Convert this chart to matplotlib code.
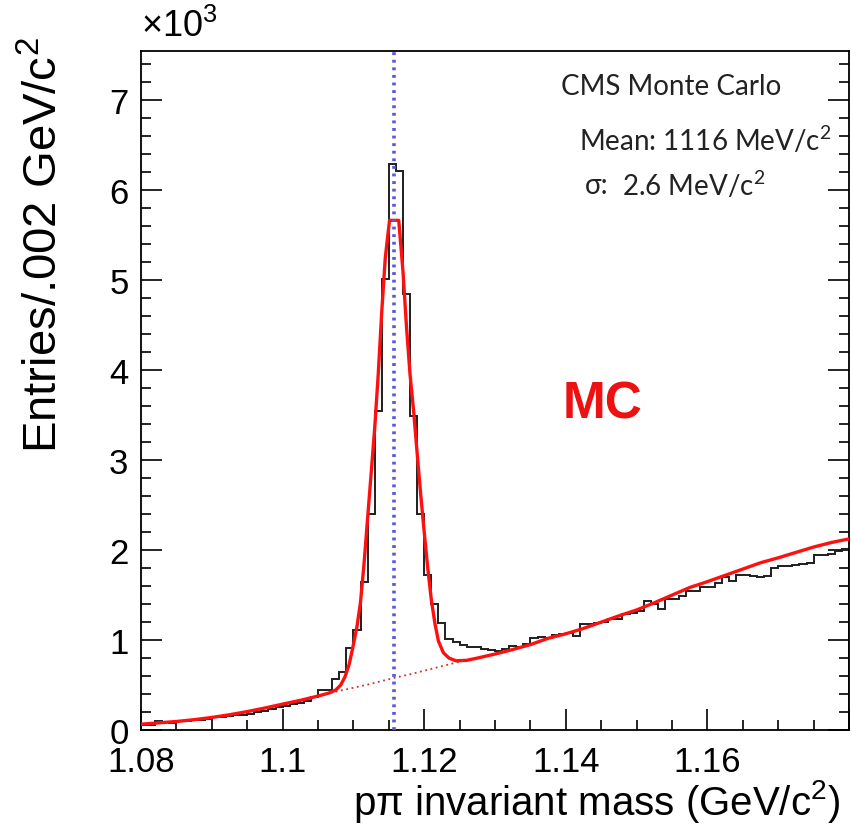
import numpy as np
import matplotlib
matplotlib.use("Agg")
import matplotlib.pyplot as plt
from matplotlib.ticker import MultipleLocator, FixedLocator, FuncFormatter

plt.rcParams['font.family'] = ['Liberation Sans', 'DejaVu Sans']
plt.rcParams['mathtext.fontset'] = 'custom'
plt.rcParams['mathtext.rm'] = 'Liberation Sans'
plt.rcParams['mathtext.it'] = 'Liberation Sans:italic'
plt.rcParams['mathtext.sf'] = 'Lato'

# p-pi invariant mass histogram, 1 MeV bins from 1.08 to 1.18 GeV
x_lo, x_hi, n_bins = 1.08, 1.18, 100
entries = [
    55, 60, 100, 85, 80, 95, 100, 110, 115, 120,
    140, 145, 160, 165, 170, 180, 200, 210, 235, 255,
    270, 290, 300, 320, 365, 440, 445, 570, 650, 910,
    1115, 1650, 2400, 3550, 5010, 6290, 6215, 4845, 3490, 2400,
    1720, 1400, 1195, 1010, 975, 945, 920, 925, 900, 890,
    880, 905, 930, 925, 960, 1020, 1030, 1020, 1060, 1065,
    1075, 1045, 1175, 1180, 1195, 1200, 1235, 1240, 1285, 1300,
    1320, 1435, 1400, 1345, 1455, 1460, 1490, 1545, 1550, 1585,
    1590, 1640, 1705, 1660, 1720, 1725, 1710, 1705, 1710, 1805,
    1825, 1825, 1830, 1850, 1855, 1945, 1945, 1955, 1990, 2010,
]

# fitted signal + background
fit_x = [1.0800, 1.0825, 1.0850, 1.0875, 1.0900, 1.0925, 1.0950, 1.0975,
         1.1000, 1.1025, 1.1050, 1.1065, 1.1075, 1.1082, 1.1088, 1.1094,
         1.1100, 1.1105, 1.1110, 1.1115, 1.1120, 1.1125, 1.1130, 1.1135,
         1.1140, 1.1145, 1.1151, 1.1164, 1.1170, 1.1175, 1.1180, 1.1185,
         1.1190, 1.1195, 1.1200, 1.1205, 1.1210, 1.1215, 1.1220, 1.1227,
         1.1235, 1.1245, 1.1260, 1.1275, 1.1300, 1.1325, 1.1350, 1.1375,
         1.1400, 1.1425, 1.1450, 1.1475, 1.1500, 1.1525, 1.1550, 1.1575,
         1.1600, 1.1625, 1.1650, 1.1675, 1.1700, 1.1725, 1.1750, 1.1775,
         1.1800]
fit_y = [65, 80, 95, 115, 140, 170, 205, 245,
         288, 330, 378, 410, 445, 500, 590, 730,
         950, 1150, 1420, 1850, 2350, 2850, 3350, 3950,
         4650, 5250, 5667, 5667, 5100, 4480, 3950, 3550,
         3080, 2620, 2200, 1800, 1450, 1190, 990, 860,
         800, 770, 775, 800, 845, 895, 950, 1020,
         1070, 1130, 1200, 1270, 1335, 1415, 1500, 1585,
         1650, 1720, 1790, 1860, 1915, 1975, 2035, 2085,
         2125]

# background component under the peak
bkg_x = [1.1060, 1.1080, 1.1100, 1.1120, 1.1140, 1.1160, 1.1180, 1.1200,
         1.1220, 1.1240, 1.1255]
bkg_y = [400, 435, 470, 505, 545, 585, 620, 660, 700, 740, 770]

mean_mass = 1.1157

fig = plt.figure(figsize=(8.51, 8.28), dpi=100)
ax = fig.add_axes([0.1657, 0.1171, 0.832, 0.8201])

edges = np.linspace(x_lo, x_hi, n_bins + 1)
ax.stairs(entries, edges, color='#1e1e1e', lw=1.4, zorder=2)
ax.plot(fit_x, fit_y, color='#ff1010', lw=2.4, zorder=3)
ax.plot(bkg_x, bkg_y, color='#d03030', lw=1.3, ls=(0, (1, 2)), zorder=3)
ax.axvline(mean_mass, color='#5a5ad6', lw=2.6, ls=(0, (0.8, 1.3)), zorder=4)

ax.set_xlim(x_lo, x_hi)
ax.set_ylim(0, 7550)

ax.xaxis.set_major_locator(FixedLocator([1.08, 1.10, 1.12, 1.14, 1.16, 1.18]))
ax.xaxis.set_major_formatter(FuncFormatter(lambda v, p: '%g' % round(v, 3) if v < 1.17 else ''))
ax.xaxis.set_minor_locator(MultipleLocator(0.005))
ax.yaxis.set_major_locator(MultipleLocator(1000))
ax.yaxis.set_major_formatter(FuncFormatter(lambda v, p: '%d' % round(v / 1000)))
ax.yaxis.set_minor_locator(MultipleLocator(200))

ax.tick_params(which='both', direction='in', top=False, right=True,
               width=1.2, labelsize=25)
ax.tick_params(which='major', length=15)
ax.tick_params(which='minor', length=7.5)
ax.tick_params(axis='x', pad=11)
ax.tick_params(axis='y', pad=9)
for s in ax.spines.values():
    s.set_linewidth(1.3)

ax.text(0.0, 1.01, r'$\times10^{3}$', transform=ax.transAxes, fontsize=26,
        ha='left', va='bottom')

ax.set_xlabel(r'pπ invariant mass (GeV/c$^{2}$)', fontsize=29, ha='right',
              x=0.988, labelpad=-1)
fig.text(0.053, 0.955, r'Entries/.002 GeV/c$^{2}$', fontsize=34, rotation=90,
         ha='center', va='top')

info_font = ['Lato', 'DejaVu Sans']
ax.text(0.593, 0.948, 'CMS Monte Carlo', transform=ax.transAxes,
        family=info_font, fontsize=20, ha='left', va='center', color='#222222')
ax.text(0.619, 0.870, r'Mean: 1116 MeV/c$^{\mathsf{2}}$', transform=ax.transAxes,
        family=info_font, fontsize=20, ha='left', va='center', color='#222222')
ax.text(0.627, 0.803, 'σ:', transform=ax.transAxes,
        family=info_font, fontsize=20, ha='left', va='center', color='#222222')
ax.text(0.679, 0.803, r'2.6 MeV/c$^{\mathsf{2}}$', transform=ax.transAxes,
        family=info_font, fontsize=20, ha='left', va='center', color='#222222')

ax.text(0.595, 0.48, 'MC', transform=ax.transAxes, fontsize=37,
        fontweight='bold', color='#ee1111', ha='left', va='center')

fig.savefig('out.png', dpi=100)
